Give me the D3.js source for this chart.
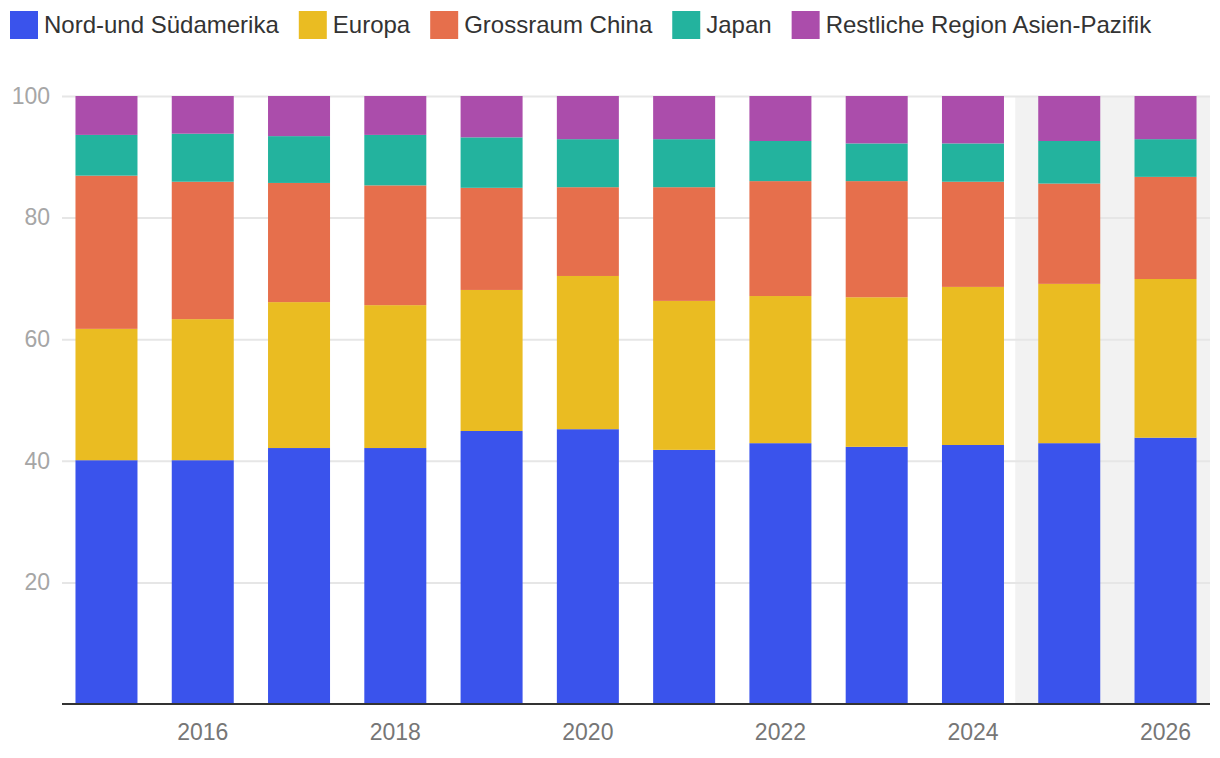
<!DOCTYPE html>
<html>
<head>
<meta charset="utf-8">
<script src="https://cdn.jsdelivr.net/npm/d3@7"></script>
<style>
  body { margin: 0; background: #fff; }
  svg { display: block; font-family: "Liberation Sans", Arial, sans-serif; }
</style>
</head>
<body>
<div id="chart"></div>
<script>
const years = ["2015", "2016", "2017", "2018", "2019", "2020", "2021", "2022", "2023", "2024", "2025", "2026"];
const forecastYears = ["2025", "2026"];
const xTickLabels = ["2016", "2018", "2020", "2022", "2024", "2026"];
const yTickValues = [20, 40, 60, 80, 100];

const seriesNames = ["Nord-und Südamerika", "Europa", "Grossraum China", "Japan", "Restliche Region Asien-Pazifik"];
const amerika = [40.1, 40.1, 42.1, 42.1, 44.9, 45.2, 41.8, 42.9, 42.3, 42.6, 42.9, 43.8];
const europa = [21.6, 23.2, 24.0, 23.5, 23.2, 25.2, 24.5, 24.2, 24.6, 26.0, 26.2, 26.1];
const china = [25.2, 22.6, 19.6, 19.7, 16.8, 14.6, 18.7, 18.9, 19.1, 17.3, 16.5, 16.8];
const japan = [6.7, 7.9, 7.7, 8.3, 8.3, 7.9, 7.9, 6.6, 6.2, 6.3, 7.0, 6.2];
const restAsien = [6.4, 6.2, 6.6, 6.4, 6.8, 7.1, 7.1, 7.4, 7.8, 7.8, 7.4, 7.1];

const colors = ["#3a53ec", "#eabc22", "#e66f4c", "#23b39e", "#ab4dab"];

const width = 1220, height = 758;
const margin = { top: 96, right: 10, bottom: 54, left: 62 };

// rows for the stack
const seriesValues = [amerika, europa, china, japan, restAsien];
const rows = years.map((year, i) => {
  const row = { year };
  seriesNames.forEach((name, s) => { row[name] = seriesValues[s][i]; });
  return row;
});

const stacked = d3.stack().keys(seriesNames)(rows);

const svg = d3.select("#chart")
  .append("svg")
  .attr("width", width)
  .attr("height", height);

const x = d3.scaleBand()
  .domain(years)
  .range([margin.left, width - margin.right])
  .paddingInner(0.356)
  .paddingOuter(0.14);

const y = d3.scaleLinear()
  .domain([0, 100])
  .range([height - margin.bottom, margin.top]);

// forecast shading
const gap = x.step() - x.bandwidth();
svg.append("rect")
  .attr("x", x(forecastYears[0]) - gap * 0.67)
  .attr("y", y(100))
  .attr("width", width - margin.right - (x(forecastYears[0]) - gap * 0.67))
  .attr("height", y(0) - y(100))
  .attr("fill", "#f2f2f2");

// gridlines
const yAxis = d3.axisLeft(y)
  .tickValues(yTickValues)
  .tickSize(-(width - margin.left - margin.right))
  .tickPadding(12);

const gy = svg.append("g")
  .attr("transform", `translate(${margin.left}, 0)`)
  .call(yAxis);
gy.select(".domain").remove();
gy.selectAll(".tick line").attr("stroke", "#e6e6e6").attr("stroke-width", 2);
gy.selectAll(".tick text")
  .attr("fill", "#a6a6a6")
  .attr("font-size", 23)
  .attr("x", -12);

// bars
svg.append("g")
  .selectAll("g")
  .data(stacked)
  .join("g")
  .attr("fill", (d, i) => colors[i])
  .selectAll("rect")
  .data(d => d)
  .join("rect")
  .attr("x", d => x(d.data.year))
  .attr("y", d => y(d[1]))
  .attr("width", x.bandwidth())
  .attr("height", d => y(d[0]) - y(d[1]));

// x axis
const xAxis = d3.axisBottom(x)
  .tickValues(xTickLabels)
  .tickSize(0)
  .tickPadding(20);

const gx = svg.append("g")
  .attr("transform", `translate(0, ${y(0)})`)
  .call(xAxis);
gx.select(".domain").attr("stroke", "#333").attr("stroke-width", 2)
  .attr("d", `M${margin.left},0H${width - margin.right}`);
gx.selectAll(".tick text")
  .attr("fill", "#767676")
  .attr("font-size", 23);

// legend
const legend = svg.append("g").attr("transform", "translate(10, 11)");
let lx = 0;
seriesNames.forEach((name, i) => {
  const item = legend.append("g").attr("transform", `translate(${lx}, 0)`);
  item.append("rect")
    .attr("width", 28)
    .attr("height", 28)
    .attr("fill", colors[i]);
  const t = item.append("text")
    .attr("x", 34)
    .attr("y", 14)
    .attr("dy", "0.35em")
    .attr("fill", "#333")
    .attr("font-size", 24)
    .text(name);
  lx += 34 + t.node().getComputedTextLength() + 20;
});
</script>
</body>
</html>
